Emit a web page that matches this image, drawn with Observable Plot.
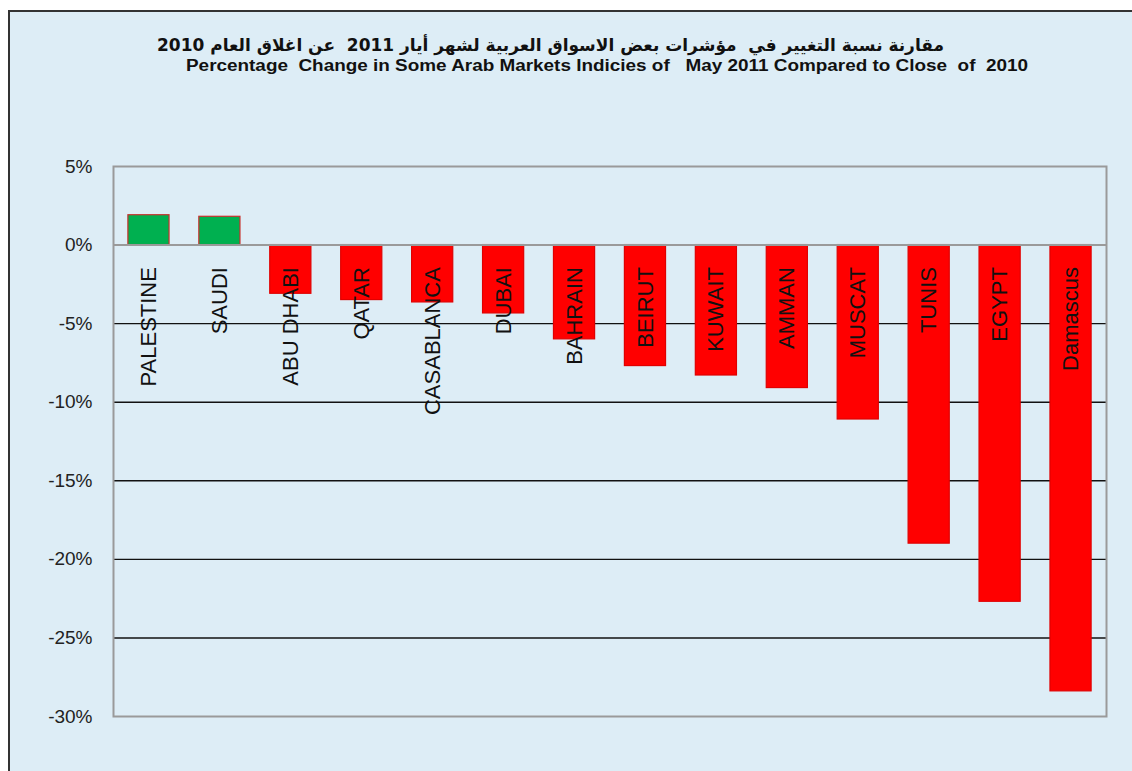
<!DOCTYPE html>
<html>
<head>
<meta charset="utf-8">
<script src="https://cdn.jsdelivr.net/npm/d3@7"></script>
<script src="https://cdn.jsdelivr.net/npm/@observablehq/plot@0.6"></script>
<style>
  html, body { margin: 0; padding: 0; background: #ffffff; width: 1132px; height: 771px; overflow: hidden; }
  #panel { position: absolute; left: 8px; top: 10px; width: 1130px; height: 770px;
           background: #DDEDF6; border-left: 2px solid #333; border-top: 2px solid #333; }
  .ttl { position: absolute; white-space: pre; font-weight: bold; color: #111; transform-origin: 0 50%; line-height: 1; }
  #t1 { font-family: "DejaVu Sans", sans-serif; font-size: 17px; direction: rtl; unicode-bidi: plaintext; }
  #t2 { font-family: "Liberation Sans", Arial, sans-serif; font-size: 16px; }
  #chart { position: absolute; left: 0; top: 140px; }
</style>
</head>
<body>
<div id="panel"></div>
<span class="ttl" id="t1">مقارنة نسبة التغيير في  مؤشرات بعض الاسواق العربية لشهر أيار 2011  عن اغلاق العام 2010</span>
<span class="ttl" id="t2">Percentage  Change in Some Arab Markets Indicies of   May 2011 Compared to Close  of  2010</span>
<div id="chart"></div>
<script>
const categories = ["PALESTINE","SAUDI","ABU DHABI","QATAR","CASABLANCA","DUBAI","BAHRAIN","BEIRUT","KUWAIT","AMMAN","MUSCAT","TUNIS","EGYPT","Damascus"];
const values = [1.9, 1.8, -3.1, -3.5, -3.65, -4.35, -6.0, -7.7, -8.3, -9.1, -11.1, -19.0, -22.7, -28.4];
const yTicks = [5, 0, -5, -10, -15, -20, -25, -30];
const gridLines = [-5, -10, -15, -20, -25];

const data = categories.map((c, i) => ({cat: c, value: values[i]}));

const chart = Plot.plot({
  width: 1132,
  height: 600,
  marginLeft: 113,
  marginRight: 26,
  marginTop: 26,
  marginBottom: 24,
  style: {background: "transparent", fontFamily: "'Liberation Sans', Arial, sans-serif", fontSize: "19px", color: "#222", overflow: "visible"},
  color: {type: "identity"},
  x: {domain: categories, paddingInner: 0.42, paddingOuter: 0.21, round: false, axis: null},
  y: {domain: [-30, 5], ticks: yTicks, tickFormat: d => d + "%", tickSize: 0, tickPadding: 21, label: null},
  marks: [
    Plot.ruleY(gridLines, {stroke: "#111", strokeWidth: 1.4}),
    Plot.barY(data, {x: "cat", y: "value",
      fill: d => d.value >= 0 ? "#00B050" : "#FF0000",
      stroke: d => d.value >= 0 ? "#C8302C" : "#E00000",
      strokeWidth: 1.2}),
    Plot.ruleY([0], {stroke: "#9a9a9a", strokeWidth: 2}),
    Plot.frame({stroke: "#9a9a9a", strokeWidth: 2}),
    Plot.text(data, {x: "cat", y: 0, text: "cat", rotate: -90, textAnchor: "end", dy: 22,
      fontSize: 22, fill: "#111", fontFamily: "'Liberation Sans', Arial, sans-serif"})
  ]
});
document.getElementById("chart").appendChild(chart);

function fit(id, left, right, cy) {
  const el = document.getElementById(id);
  const r = el.getBoundingClientRect();
  const s = (right - left) / r.width;
  el.style.left = left + "px";
  el.style.top = (cy - r.height / 2) + "px";
  el.style.transform = "scaleX(" + s + ")";
}
fit("t1", 157, 944, 45);
fit("t2", 186, 1028, 66);
</script>
</body>
</html>
